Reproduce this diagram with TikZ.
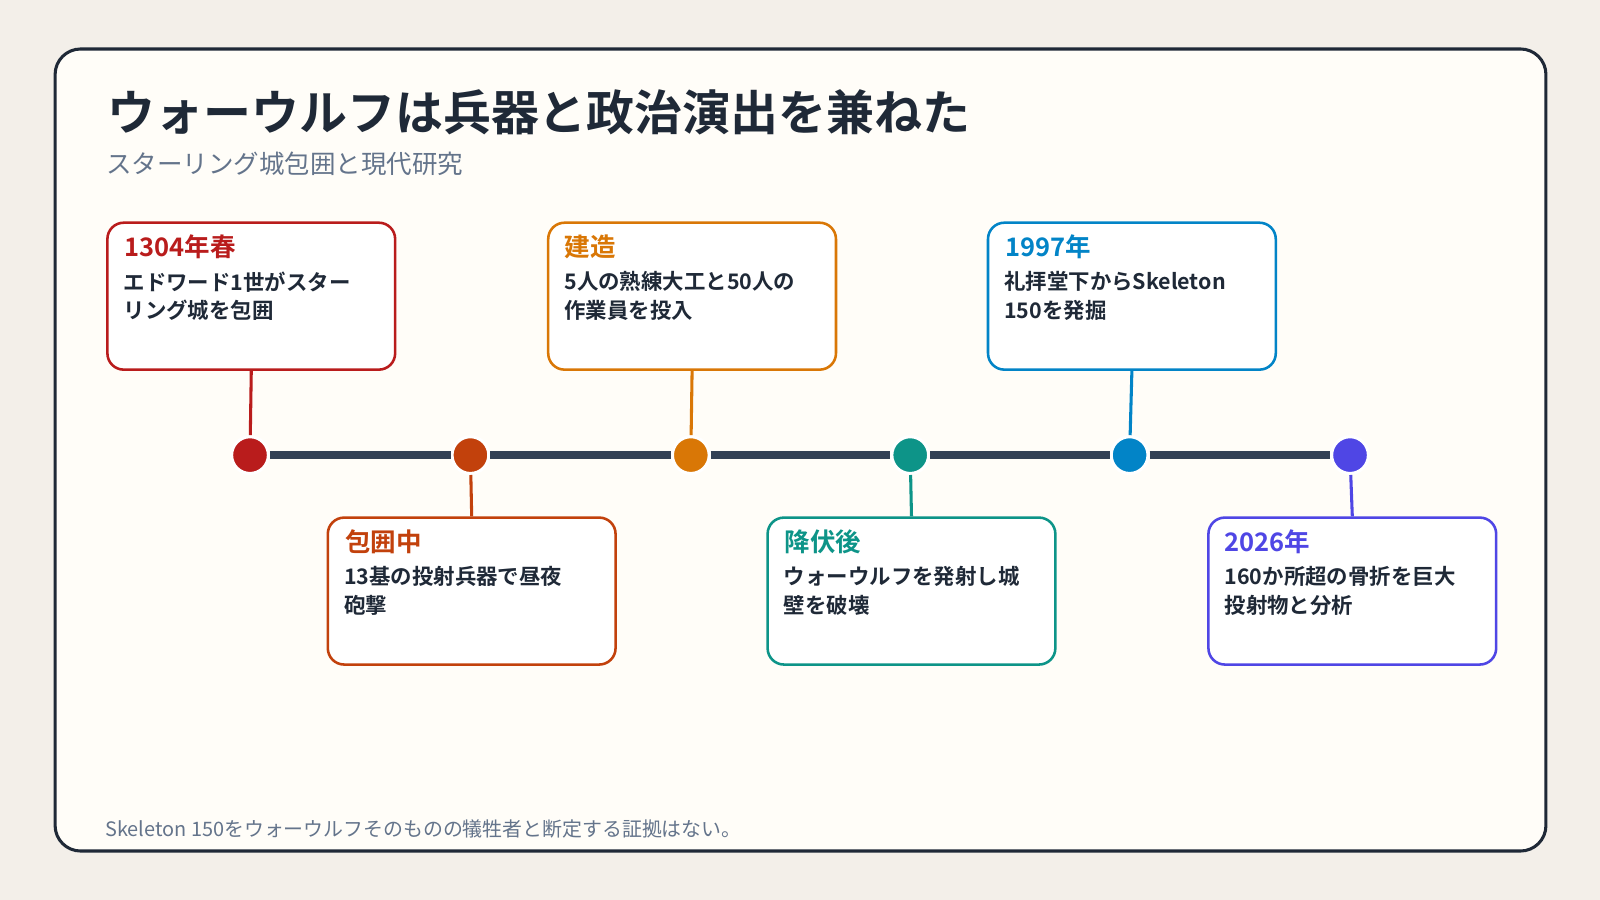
\documentclass[tikz,border=0pt]{standalone}
\usepackage{fontspec}
\setmainfont{Noto Sans CJK JP}
\newfontfamily\cjkb{Noto Sans CJK JP Bold}
\definecolor{bg}{HTML}{F3EFE9}
\definecolor{card}{HTML}{FFFDF8}
\definecolor{ink}{HTML}{1F2937}
\definecolor{line}{HTML}{334155}
\definecolor{sub}{HTML}{64748B}
\definecolor{cA}{HTML}{B91C1C}
\definecolor{cB}{HTML}{C2410C}
\definecolor{cC}{HTML}{D97706}
\definecolor{cD}{HTML}{0D9488}
\definecolor{cE}{HTML}{0284C7}
\definecolor{cF}{HTML}{4F46E5}
\begin{document}
\begin{tikzpicture}[x=1pt,y=-1pt,
  box/.style={draw=#1,line width=2.5pt,fill=white,rounded corners=16pt,minimum width=282pt,minimum height=144pt,anchor=north west},
  dot/.style={circle,fill=#1,draw=white,line width=3pt,minimum size=36pt,inner sep=0pt},
  ttl/.style={anchor=west,text=#1,font=\fontsize{25}{28}\selectfont\cjkb},
  body/.style={anchor=north west,text=ink,align=left,font=\fontsize{21}{28}\selectfont\cjkb},
  conn/.style={draw=#1,line width=3pt}]
\useasboundingbox (0,0) rectangle (1568,882);
\fill[bg] (0,0) rectangle (1568,882);
\draw[ink,line width=3pt,fill=card,rounded corners=25pt] (54,48) rectangle (1515,834);
\node[anchor=base west,inner sep=0,text=ink,font=\fontsize{47}{50}\selectfont\cjkb] (title) at (105,128) {ウォーウルフは兵器と政治演出を兼ねた};
\node[anchor=base west,inner sep=0,text=sub,font=\fontsize{25}{28}\selectfont] (subt) at (104,170) {スターリング城包囲と現代研究};
\node[anchor=base west,inner sep=0,text=sub,font=\fontsize{19.5}{22}\selectfont] (foot) at (103,820) {Skeleton 150をウォーウルフそのものの犠牲者と断定する証拠はない。};
% dots
\foreach \n/\x/\c in {d1/245/cA,d2/461/cB,d3/677/cC,d4/892/cD,d5/1107/cE,d6/1323/cF}
  \node[dot=\c] (\n) at (\x,446) {};
\foreach \a/\b in {d1/d2,d2/d3,d3/d4,d4/d5,d5/d6}
  \draw[line,line width=8pt] (\a) -- (\b);
% cards
\node[box=cA] (b1) at (104,217) {};
\node[box=cB] (b2) at (320,506) {};
\node[box=cC] (b3) at (536,217) {};
\node[box=cD] (b4) at (751,506) {};
\node[box=cE] (b5) at (967,217) {};
\node[box=cF] (b6) at (1183,506) {};
\draw[conn=cA] (b1.south) -- (d1);
\draw[conn=cB] (b2.north) -- (d2);
\draw[conn=cC] (b3.south) -- (d3);
\draw[conn=cD] (b4.north) -- (d4);
\draw[conn=cE] (b5.south) -- (d5);
\draw[conn=cF] (b6.north) -- (d6);
\node[ttl=cA,inner sep=0] (t1) at (122,242) {1304年春};
\node[ttl=cB,inner sep=0] (t2) at (338,531) {包囲中};
\node[ttl=cC,inner sep=0] (t3) at (553,242) {建造};
\node[ttl=cD,inner sep=0] (t4) at (769,531) {降伏後};
\node[ttl=cE,inner sep=0] (t5) at (985,242) {1997年};
\node[ttl=cF,inner sep=0] (t6) at (1200,531) {2026年};
\node[body,inner sep=0] (x1) at (121,266) {エドワード1世がスター\\リング城を包囲};
\node[body,inner sep=0] (x2) at (337,555) {13基の投射兵器で昼夜\\砲撃};
\node[body,inner sep=0] (x3) at (553,266) {5人の熟練大工と50人の\\作業員を投入};
\node[body,inner sep=0] (x4) at (768,555) {ウォーウルフを発射し城\\壁を破壊};
\node[body,inner sep=0] (x5) at (984,266) {礼拝堂下からSkeleton\\150を発掘};
\node[body,inner sep=0] (x6) at (1200,555) {160か所超の骨折を巨大\\投射物と分析};
\end{tikzpicture}
\end{document}
